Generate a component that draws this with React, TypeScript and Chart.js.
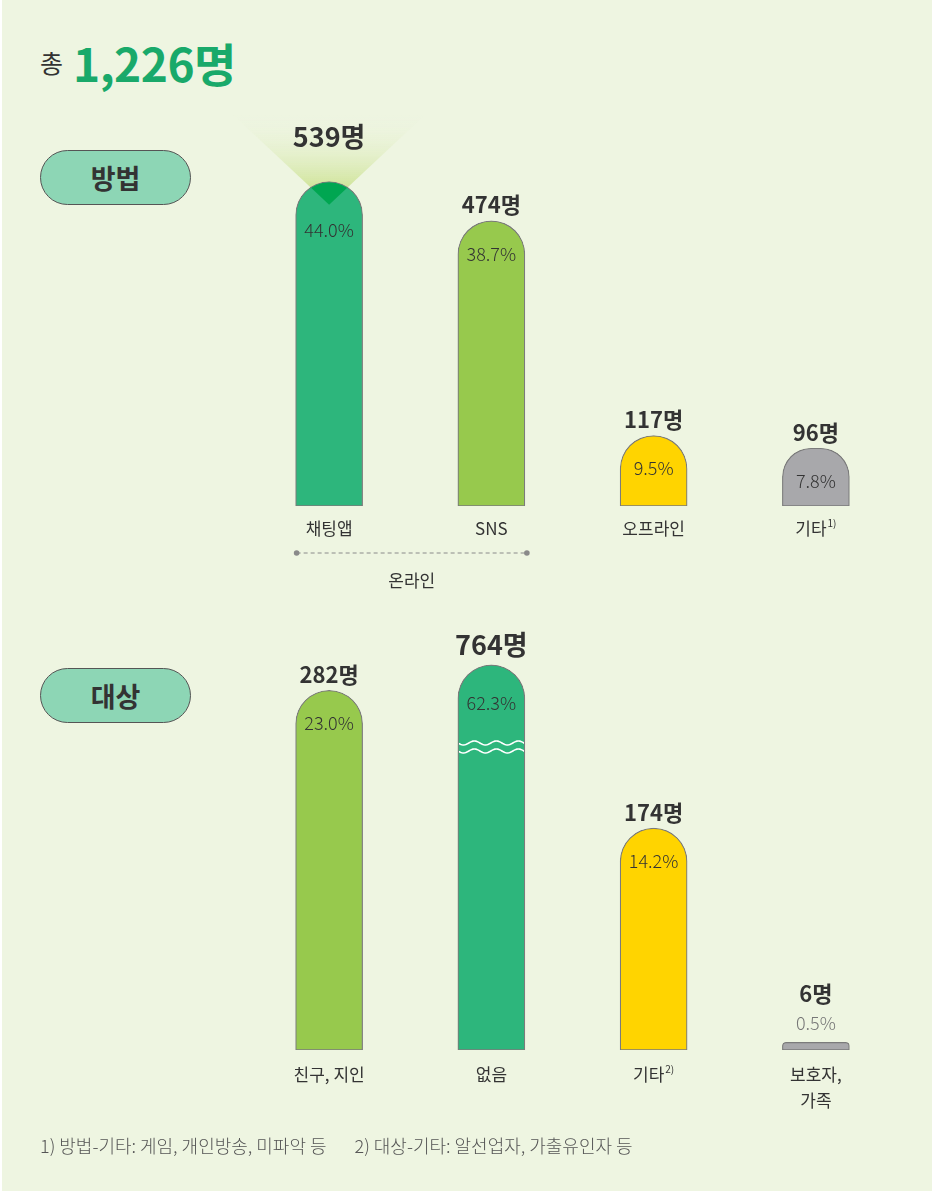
import React, { useEffect, useRef } from "react";
import { Chart, registerables } from "chart.js";

Chart.register(...registerables);

const FONT = '"Noto Sans CJK KR", "Noto Sans", sans-serif';

const TOTAL_PREFIX = "총";
const TOTAL_LABEL = "1,226명";
const FOOTNOTE_1 = "1) 방법-기타: 게임, 개인방송, 미파악 등";
const FOOTNOTE_2 = "2) 대상-기타: 알선업자, 가출유인자 등";

const methodTitle = "방법";
const methodCategories = [["채팅앱"], ["SNS"], ["오프라인"], ["기타"]];
const methodNotes = ["", "", "", "1)"];
const methodCounts = [539, 474, 117, 96];
const methodPercents = ["44.0%", "38.7%", "9.5%", "7.8%"];
const methodColors = ["#2db67c", "#97c94d", "#ffd400", "#a8a8ab"];
const methodGroupLabel = "온라인";
const methodGroupRange = [0, 1];
const METHOD_Y_MAX = 600;

const targetTitle = "대상";
const targetCategories = [["친구, 지인"], ["없음"], ["기타"], ["보호자,", "가족"]];
const targetNotes = ["", "", "2)", ""];
const targetCounts = [282, 764, 174, 6];
const targetPercents = ["23.0%", "62.3%", "14.2%", "0.5%"];
const targetColors = ["#97c94d", "#2db67c", "#ffd400", "#a8a8ab"];
const TARGET_Y_MAX = 320;
const TARGET_AXIS_BREAK = 302; // values above this are drawn with a broken bar

type ChartCfg = {
  categories: string[][];
  notes: string[];
  counts: number[];
  percents: string[];
  colors: string[];
  yMax: number;
  axisBreak?: number;
  spotlight?: boolean;
  group?: { label: string; range: number[] };
  padding: { left: number; right: number; top: number; bottom: number };
  labelGap: number;
};

function makePlugin(cfg: ChartCfg) {
  const maxIdx = cfg.counts.indexOf(Math.max(...cfg.counts));
  return {
    id: "infoLabels",
    beforeDatasetsDraw(chart: any) {
      if (!cfg.spotlight) return;
      const ctx = chart.ctx;
      const el = chart.getDatasetMeta(0).data[maxIdx];
      const { x, y } = el.getProps(["x", "y"], true);
      const apex = y + 23;
      const topY = apex - 90;
      const half = 96;
      const g = ctx.createLinearGradient(0, topY, 0, y + 5);
      g.addColorStop(0, "rgba(238,245,225,0)");
      g.addColorStop(1, "rgba(208,228,155,1)");
      ctx.save();
      ctx.beginPath();
      ctx.moveTo(x - half, topY);
      ctx.lineTo(x + half, topY);
      ctx.lineTo(x, apex);
      ctx.closePath();
      ctx.fillStyle = g;
      ctx.fill();
      ctx.restore();
    },
    afterDatasetsDraw(chart: any) {
      const ctx = chart.ctx;
      const meta = chart.getDatasetMeta(0);
      meta.data.forEach((el: any, i: number) => {
        const { x, y, base, width } = el.getProps(["x", "y", "base", "width"], true);
        const h = base - y;
        const isMax = i === maxIdx;
        if (cfg.spotlight && isMax) {
          const r = width / 2;
          const apex = y + 23;
          const topY = apex - 90;
          const half = 96;
          ctx.save();
          ctx.beginPath();
          ctx.arc(x, y + r, r - 0.8, 0, Math.PI * 2);
          ctx.clip();
          ctx.beginPath();
          ctx.moveTo(x - half, topY);
          ctx.lineTo(x + half, topY);
          ctx.lineTo(x, apex);
          ctx.closePath();
          ctx.fillStyle = "#00a651";
          ctx.fill();
          ctx.restore();
        }
        if (cfg.axisBreak !== undefined && cfg.counts[i] > cfg.axisBreak) {
          ctx.save();
          ctx.beginPath();
          ctx.rect(x - width / 2 + 1, y, width - 2, h);
          ctx.clip();
          ctx.strokeStyle = "#ffffff";
          ctx.lineWidth = 1.6;
          [78, 86].forEach((off) => {
            ctx.beginPath();
            for (let px = x - width / 2; px <= x + width / 2; px += 1) {
              const py = y + off + 2 * Math.sin(((px - (x - width / 2)) / 22) * Math.PI * 2);
              if (px === x - width / 2) ctx.moveTo(px, py);
              else ctx.lineTo(px, py);
            }
            ctx.stroke();
          });
          ctx.restore();
        }
        ctx.save();
        ctx.textAlign = "center";
        ctx.textBaseline = "middle";
        const small = h < 30;
        const countText = cfg.counts[i] + "명";
        ctx.fillStyle = "#333333";
        if (small) {
          ctx.font = `bold 22px ${FONT}`;
          ctx.fillText(countText, x, y - 49);
          ctx.font = `300 18px ${FONT}`;
          ctx.fillStyle = "#777777";
          ctx.fillText(cfg.percents[i], x, y - 19);
        } else {
          const cOff = isMax ? (cfg.spotlight ? 45 : 20) : 16;
          const pOff = isMax ? (cfg.spotlight ? 48 : 38) : 33;
          ctx.font = `bold ${isMax ? 27 : 22}px ${FONT}`;
          ctx.fillText(countText, x, y - cOff);
          ctx.font = `300 18px ${FONT}`;
          ctx.fillStyle = "#333333";
          ctx.fillText(cfg.percents[i], x, y + pOff);
        }
        ctx.fillStyle = "#333333";
        const lines = cfg.categories[i];
        lines.forEach((line, li) => {
          const ly = base + cfg.labelGap + li * 26;
          ctx.font = `17px ${FONT}`;
          const note = li === lines.length - 1 ? cfg.notes[i] : "";
          if (note) {
            const mw = ctx.measureText(line).width;
            ctx.font = `10px ${FONT}`;
            const nw = ctx.measureText(note).width;
            const start = x - (mw + nw + 1) / 2;
            ctx.textAlign = "left";
            ctx.fillText(note, start + mw + 1, ly - 6);
            ctx.font = `17px ${FONT}`;
            ctx.fillText(line, start, ly);
            ctx.textAlign = "center";
          } else {
            ctx.fillText(line, x, ly);
          }
        });
        ctx.restore();
      });
      if (cfg.group) {
        const a = meta.data[cfg.group.range[0]].getProps(["x", "width", "base"], true);
        const b = meta.data[cfg.group.range[1]].getProps(["x", "width"], true);
        const x1 = a.x - a.width / 2 + 1;
        const x2 = b.x + b.width / 2 + 2;
        const ly = a.base + 47;
        ctx.save();
        ctx.strokeStyle = "#8a8a8a";
        ctx.lineWidth = 1;
        ctx.setLineDash([4, 3]);
        ctx.beginPath();
        ctx.moveTo(x1, ly);
        ctx.lineTo(x2, ly);
        ctx.stroke();
        ctx.setLineDash([]);
        ctx.fillStyle = "#8a8a8a";
        [x1, x2].forEach((px) => {
          ctx.beginPath();
          ctx.arc(px, ly, 2.8, 0, Math.PI * 2);
          ctx.fill();
        });
        ctx.fillStyle = "#333333";
        ctx.font = `17px ${FONT}`;
        ctx.textAlign = "center";
        ctx.textBaseline = "middle";
        ctx.fillText(cfg.group.label, (x1 + x2) / 2, a.base + 75);
        ctx.restore();
      }
    },
  };
}

function BarBlock({ cfg, top, height }: { cfg: ChartCfg; top: number; height: number }) {
  const ref = useRef<HTMLCanvasElement | null>(null);
  useEffect(() => {
    if (!ref.current) return;
    const display = cfg.counts.map((v) =>
      cfg.axisBreak !== undefined ? Math.min(v, cfg.axisBreak) : v
    );
    const chart = new Chart(ref.current, {
      type: "bar",
      data: {
        labels: cfg.categories.map((c) => c.join(" ")),
        datasets: [
          {
            data: display,
            backgroundColor: cfg.colors,
            borderColor: "#7b7b7b",
            borderWidth: 1.2,
            borderSkipped: false,
            borderRadius: { topLeft: 40, topRight: 40, bottomLeft: 0, bottomRight: 0 },
            barThickness: 67,
          },
        ],
      },
      options: {
        responsive: false,
        animation: false,
        devicePixelRatio: 1,
        layout: { padding: cfg.padding },
        plugins: { legend: { display: false }, tooltip: { enabled: false } },
        scales: {
          x: { display: false },
          y: { display: false, min: 0, max: cfg.yMax },
        },
      },
      plugins: [makePlugin(cfg)],
    });
    return () => chart.destroy();
  }, []);
  return (
    <canvas
      ref={ref}
      width={932}
      height={height}
      style={{ position: "absolute", left: 0, top, width: 932, height }}
    />
  );
}

const pillStyle = (top: number): React.CSSProperties => ({
  position: "absolute",
  left: 40,
  top,
  width: 151,
  height: 55,
  boxSizing: "border-box",
  borderRadius: 28,
  background: "#8dd6b5",
  border: "1.5px solid #555",
  display: "flex",
  alignItems: "center",
  justifyContent: "center",
  fontFamily: FONT,
  fontWeight: 700,
  fontSize: 27,
  color: "#333",
});

export default function App() {
  const methodCfg: ChartCfg = {
    categories: methodCategories,
    notes: methodNotes,
    counts: methodCounts,
    percents: methodPercents,
    colors: methodColors,
    yMax: METHOD_Y_MAX,
    spotlight: true,
    group: { label: methodGroupLabel, range: methodGroupRange },
    padding: { left: 248, right: 35, top: 55, bottom: 104 },
    labelGap: 23,
  };
  const targetCfg: ChartCfg = {
    categories: targetCategories,
    notes: targetNotes,
    counts: targetCounts,
    percents: targetPercents,
    colors: targetColors,
    yMax: TARGET_Y_MAX,
    axisBreak: TARGET_AXIS_BREAK,
    padding: { left: 248, right: 35, top: 32, bottom: 90 },
    labelGap: 25,
  };
  return (
    <div style={{ position: "absolute", left: 0, top: 0, width: 932, height: 1194, background: "#fff" }}>
      <div style={{ position: "absolute", left: 2, top: 0, width: 930, height: 1191, background: "#eef5e1" }} />
      <div
        style={{
          position: "absolute",
          left: 40,
          top: 34,
          height: 56,
          display: "flex",
          alignItems: "center",
          fontFamily: FONT,
          whiteSpace: "nowrap",
        }}
      >
        <span style={{ fontSize: 25, color: "#333", marginRight: 10, lineHeight: "56px" }}>{TOTAL_PREFIX}</span>
        <span style={{ fontSize: 46, fontWeight: 700, color: "#19a96a", letterSpacing: -0.5, lineHeight: "56px" }}>
          {TOTAL_LABEL}
        </span>
      </div>
      <div style={pillStyle(150)}>{methodTitle}</div>
      <div style={pillStyle(668)}>{targetTitle}</div>
      <BarBlock cfg={methodCfg} top={90} height={520} />
      <BarBlock cfg={targetCfg} top={610} height={530} />
      <div
        style={{
          position: "absolute",
          left: 40,
          top: 1133,
          fontFamily: FONT,
          fontSize: 18,
          fontWeight: 300,
          color: "#555",
          whiteSpace: "nowrap",
          lineHeight: "24px",
        }}
      >
        <span>{FOOTNOTE_1}</span>
        <span style={{ marginLeft: 28 }}>{FOOTNOTE_2}</span>
      </div>
    </div>
  );
}
